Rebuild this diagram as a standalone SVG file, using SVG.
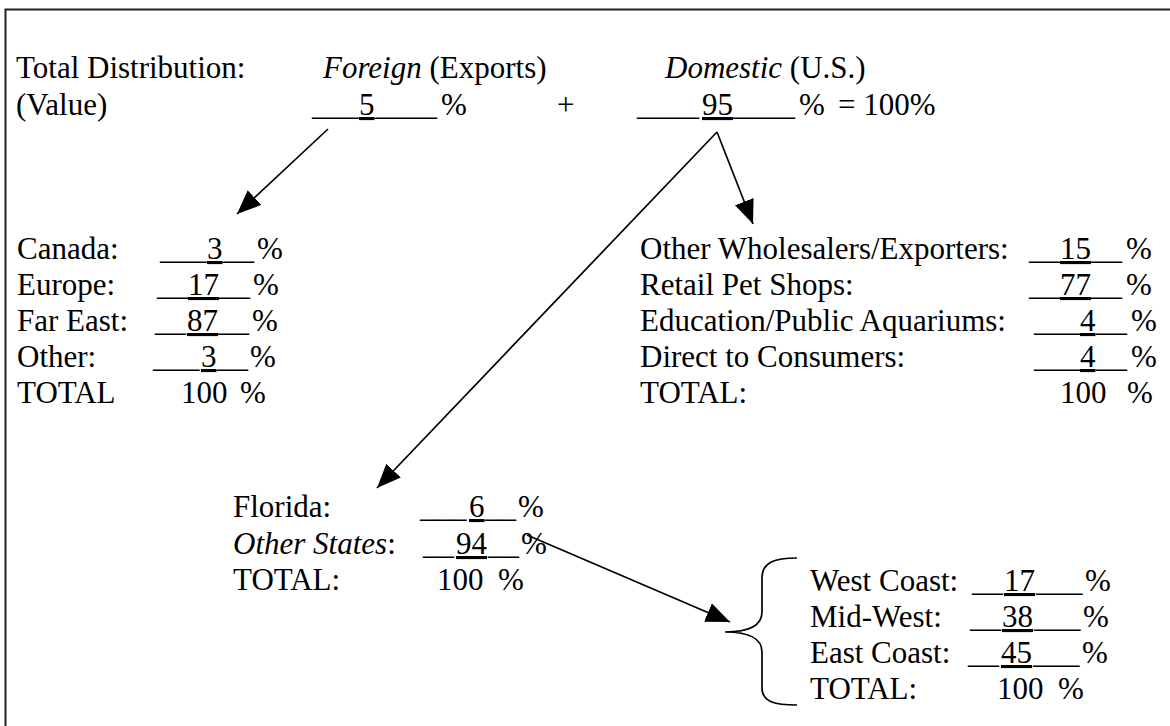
<svg xmlns="http://www.w3.org/2000/svg" width="1170" height="726" viewBox="0 0 1170 726">
<defs>
<marker id="ah" markerUnits="userSpaceOnUse" markerWidth="26" markerHeight="22" refX="24" refY="10" orient="auto">
<path d="M0,0 L24,10 L0,20 z" fill="#000"/>
</marker>
<style>
text{font-family:"Liberation Serif","Times New Roman",serif;font-size:31px;fill:#000}
.i{font-style:italic}
.u{text-decoration:underline}
.c{stroke:#000;stroke-width:1.7;fill:none}
</style>
</defs>
<rect width="1170" height="726" fill="#fff"/>
<path d="M5.5,726 V9.5 H1170" fill="none" stroke="#222" stroke-width="2"/>

<g id="header">
<text x="16" y="78">Total Distribution:</text>
<text x="323" y="78"><tspan class="i">Foreign</tspan> (Exports)</text>
<text x="665" y="78"><tspan class="i">Domestic</tspan> (U.S.)</text>
<text x="16" y="115">(Value)</text>
<text y="115"><tspan x="312">___</tspan><tspan x="359" class="u">5</tspan><tspan x="375">____</tspan><tspan x="441">%</tspan></text>
<text x="557" y="115">+</text>
<text y="115"><tspan x="637">____</tspan><tspan x="702" class="u">95</tspan><tspan x="733">____</tspan><tspan x="799">%</tspan><tspan x="838">= 100%</tspan></text>
</g>

<g id="foreign">
<text x="17" y="259">Canada:</text>
<text y="259"><tspan x="160">___</tspan><tspan x="207" class="u">3</tspan><tspan x="223">__</tspan><tspan x="257">%</tspan></text>
<text x="17" y="295">Europe:</text>
<text y="295"><tspan x="157">__</tspan><tspan x="188" class="u">17</tspan><tspan x="219">__</tspan><tspan x="253">%</tspan></text>
<text x="17" y="331">Far East:</text>
<text y="331"><tspan x="155">__</tspan><tspan x="187" class="u">87</tspan><tspan x="218">__</tspan><tspan x="252">%</tspan></text>
<text x="17" y="367">Other:</text>
<text y="367"><tspan x="153">___</tspan><tspan x="201" class="u">3</tspan><tspan x="217">__</tspan><tspan x="250">%</tspan></text>
<text x="17" y="403">TOTAL</text>
<text y="403"><tspan x="181">100</tspan><tspan x="240">%</tspan></text>
</g>

<g id="domestic">
<text x="640" y="259">Other Wholesalers/Exporters:</text>
<text y="259"><tspan x="1029">__</tspan><tspan x="1060" class="u">15</tspan><tspan x="1091">__</tspan><tspan x="1126">%</tspan></text>
<text x="640" y="295">Retail Pet Shops:</text>
<text y="295"><tspan x="1029">__</tspan><tspan x="1060" class="u">77</tspan><tspan x="1091">__</tspan><tspan x="1126">%</tspan></text>
<text x="640" y="331">Education/Public Aquariums:</text>
<text y="331"><tspan x="1034">___</tspan><tspan x="1080" class="u">4</tspan><tspan x="1096">__</tspan><tspan x="1131">%</tspan></text>
<text x="640" y="367">Direct to Consumers:</text>
<text y="367"><tspan x="1034">___</tspan><tspan x="1080" class="u">4</tspan><tspan x="1096">__</tspan><tspan x="1131">%</tspan></text>
<text x="640" y="403">TOTAL:</text>
<text y="403"><tspan x="1060">100</tspan><tspan x="1127">%</tspan></text>
</g>

<g id="states">
<text x="233" y="517">Florida:</text>
<text y="517"><tspan x="420">___</tspan><tspan x="469" class="u">6</tspan><tspan x="485">__</tspan><tspan x="518">%</tspan></text>
<text x="233" y="554"><tspan class="i">Other States</tspan>:</text>
<text y="554"><tspan x="423">__</tspan><tspan x="456" class="u">94</tspan><tspan x="488">__</tspan><tspan x="521">%</tspan></text>
<text x="233" y="590">TOTAL:</text>
<text y="590"><tspan x="437">100</tspan><tspan x="498">%</tspan></text>
</g>

<g id="regions">
<path class="c" d="M797,558 C775,558 762,562 762,578 V612 C762,626 748,632 725,632 C748,632 762,638 762,652 V688 C762,702 775,705 797,705"/>
<text x="810" y="591">West Coast:</text>
<text y="591"><tspan x="972">__</tspan><tspan x="1004" class="u">17</tspan><tspan x="1036">___</tspan><tspan x="1085">%</tspan></text>
<text x="810" y="627">Mid-West:</text>
<text y="627"><tspan x="970">__</tspan><tspan x="1002" class="u">38</tspan><tspan x="1034">___</tspan><tspan x="1083">%</tspan></text>
<text x="810" y="663">East Coast:</text>
<text y="663"><tspan x="968">__</tspan><tspan x="1001" class="u">45</tspan><tspan x="1033">___</tspan><tspan x="1082">%</tspan></text>
<text x="810" y="699">TOTAL:</text>
<text y="699"><tspan x="997">100</tspan><tspan x="1058">%</tspan></text>
</g>

<g id="connectors">
<line class="c" x1="328" y1="129" x2="237" y2="214" marker-end="url(#ah)"/>
<line class="c" x1="717" y1="132" x2="753" y2="224" marker-end="url(#ah)"/>
<line class="c" x1="717" y1="132" x2="377" y2="488" marker-end="url(#ah)"/>
<line class="c" x1="527" y1="535" x2="730" y2="622" marker-end="url(#ah)"/>
</g>
</svg>
